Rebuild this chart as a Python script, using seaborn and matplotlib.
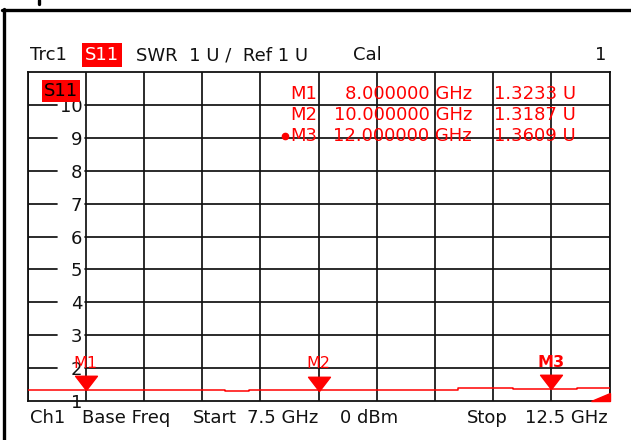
import matplotlib
matplotlib.use("Agg")
import matplotlib.pyplot as plt
from matplotlib.lines import Line2D
from matplotlib.path import Path
from matplotlib.patches import Polygon
import seaborn as sns
import pandas as pd

# ---------------- data ----------------
freq_ghz = [7.5, 7.87, 9.2, 9.4, 10.22, 11.2, 11.67, 12.22, 12.5]
swr_u = [1.34, 1.32, 1.305, 1.32, 1.345, 1.38, 1.355, 1.40, 1.40]

marker_names = ["M1", "M2", "M3"]
marker_freq = [8.0, 10.0, 12.0]
marker_val = [1.3233, 1.3187, 1.3609]
marker_freq_text = ["8.000000 GHz", "10.000000 GHz", "12.000000 GHz"]
marker_val_text = ["1.3233 U", "1.3187 U", "1.3609 U"]

y_ticks = [1, 2, 3, 4, 5, 6, 7, 8, 9, 10]
x_start, x_stop, x_step = 7.5, 12.5, 0.5
y_min, y_max = 1, 11

header_items = [("Trc1", 30), ("SWR  1 U /  Ref 1 U", 136), ("Cal", 353)]
footer_items = [("Ch1", 30), ("Base Freq", 82), ("Start", 193), ("7.5 GHz", 247),
                ("0 dBm", 340), ("Stop", 467)]

# ---------------- figure ----------------
W, H = 631, 440
sns.set_style("white")
plt.rcParams["font.family"] = ["DejaVu Sans"]
FS = 13
GRID = "#111111"
RED = "#ff0000"

fig = plt.figure(figsize=(W / 100, H / 100), dpi=100)
fig.patch.set_facecolor("white")


def fx(x):
    return x / W


def fy(y):
    return 1 - y / H


ax_l, ax_r, ax_t, ax_b = 27.5, 609.5, 72, 401
ax = fig.add_axes([fx(ax_l), fy(ax_b), (ax_r - ax_l) / W, (ax_b - ax_t) / H])
ax.set_facecolor("white")

df = pd.DataFrame({"freq": freq_ghz, "swr": swr_u})
sns.lineplot(data=df, x="freq", y="swr", ax=ax, color=RED, lw=1.1,
             drawstyle="steps-post", zorder=4)

ax.set_xlim(x_start, x_stop)
ax.set_ylim(y_min, y_max)
n_div = int(round((x_stop - x_start) / x_step))
ax.set_xticks([x_start + i * x_step for i in range(n_div + 1)])
ax.set_xticklabels([])
ax.set_yticks(y_ticks)
ax.set_yticklabels([str(v) for v in y_ticks])
ax.tick_params(axis="both", length=0)
ax.tick_params(axis="y", pad=-39.5, labelsize=FS, labelcolor="#111111")
for lab in ax.get_yticklabels():
    lab.set_horizontalalignment("right")
ax.set_xlabel("")
ax.set_ylabel("")
ax.grid(axis="x", color=GRID, lw=1.25)
ax.grid(axis="y", visible=False)
for sp in ax.spines.values():
    sp.set_color(GRID)
    sp.set_linewidth(1.3)

# horizontal grid lines, broken in first column for labels
gap0 = (57 - ax_l) / (ax_r - ax_l)
gap1 = (85 - ax_l) / (ax_r - ax_l)
for v in y_ticks:
    if v == y_min:
        continue
    ax.axhline(v, xmin=0, xmax=gap0, color=GRID, lw=1.25, zorder=1)
    ax.axhline(v, xmin=gap1, xmax=1, color=GRID, lw=1.25, zorder=1)

# marker triangles (tip at the data point)
tri = Path([(-1, 1.3), (1, 1.3), (0, 0), (-1, 1.3)],
           [Path.MOVETO, Path.LINETO, Path.LINETO, Path.CLOSEPOLY])
ax.plot(marker_freq, marker_val, ls="none", marker=tri, ms=20.5,
        color=RED, mec=RED, zorder=5, clip_on=False)
for i, (name, f, v) in enumerate(zip(marker_names, marker_freq, marker_val)):
    ax.annotate(name, (f, v), xytext=(0, 27), textcoords="offset pixels",
                ha="center", va="center", fontsize=FS - 1.5, color=RED,
                fontweight="bold" if i == 2 else "normal", zorder=6)

# out-of-range indicator at bottom right
ax.add_patch(Polygon([(1 - 19 / (ax_r - ax_l), 0), (1, 0), (1, 8 / (ax_b - ax_t))],
                     closed=True, transform=ax.transAxes, color=RED, zorder=6,
                     clip_on=False))

# S11 trace label inside diagram
fig.text(fx(44), fy(91), "S11", fontsize=FS, color="black", ha="left", va="center",
         zorder=10, bbox=dict(boxstyle="square,pad=0.12", fc=RED, ec="none"))

# marker info table
row_y = [94, 115, 136]
for i in range(len(marker_names)):
    fig.text(fx(317), fy(row_y[i]), marker_names[i], fontsize=FS, color=RED,
             ha="right", va="center", zorder=0)
    fig.text(fx(472), fy(row_y[i]), marker_freq_text[i], fontsize=FS, color=RED,
             ha="right", va="center", zorder=0)
    fig.text(fx(494), fy(row_y[i]), marker_val_text[i], fontsize=FS, color=RED,
             ha="left", va="center", zorder=0)
fig.add_artist(Line2D([fx(285)], [fy(136)], marker="o", ms=4.5, color=RED, ls="none"))

# header
for txt, x in header_items:
    fig.text(fx(x), fy(55), txt, fontsize=FS, color="#111111", ha="left", va="center")
fig.text(fx(85), fy(55), "S11", fontsize=FS, color="white", ha="left", va="center",
         bbox=dict(boxstyle="square,pad=0.15", fc=RED, ec="none"))
fig.text(fx(606), fy(55), "1", fontsize=FS, color="#111111", ha="right", va="center")

# footer
for txt, x in footer_items:
    fig.text(fx(x), fy(418), txt, fontsize=FS, color="#111111", ha="left", va="center")
fig.text(fx(608), fy(418), "12.5 GHz", fontsize=FS, color="#111111", ha="right",
         va="center")

# outer frame of the screenshot
fig.add_artist(Line2D([fx(2), fx(631)], [fy(10), fy(10)], color="black", lw=2.4))
fig.add_artist(Line2D([fx(3.5), fx(3.5)], [fy(9), fy(440)], color="black", lw=2.4))
fig.add_artist(Line2D([fx(39), fx(39)], [fy(0), fy(4)], color="black", lw=2.4))

fig.savefig("out.png", dpi=100)
